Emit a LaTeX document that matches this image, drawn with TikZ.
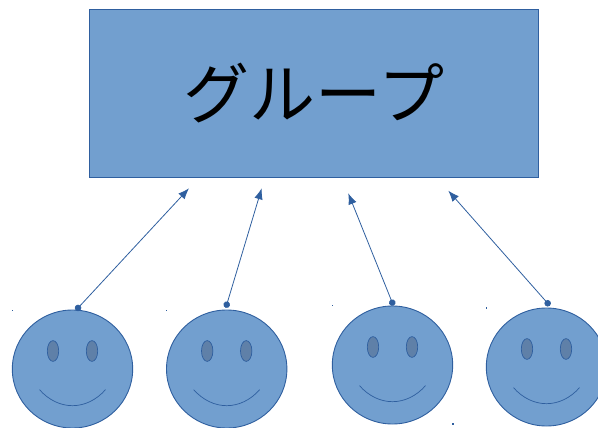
\documentclass[tikz,border=0pt]{standalone}
\usepackage{fontspec}
\usepackage{xcolor}
\usetikzlibrary{arrows.meta}
\newfontfamily\cjk{Noto Sans CJK JP}
\definecolor{facefill}{HTML}{729FCF}
\definecolor{faceline}{HTML}{2F5F9F}
\definecolor{eyefill}{HTML}{5F80A8}
\tikzset{
    groupbox/.style={draw=faceline, fill=facefill, line width=0.9pt, minimum width=449pt, minimum height=168pt, inner sep=0pt, font=\cjk\fontsize{66}{66}\selectfont},
    facebody/.style={draw=faceline, fill=facefill, line width=0.9pt},
    eyebody/.style={draw=faceline, fill=eyefill, line width=0.7pt},
    speck/.style={fill=faceline, inner sep=0pt, minimum size=1.4pt},
    linkline/.style={faceline, line width=0.8pt, shorten <=-3.2pt, {Circle[length=6.5pt, width=6.5pt]}-{Latex[length=11pt, width=8.5pt]}}
}
\begin{document}
\begin{tikzpicture}[x=1pt, y=-1pt]
    \useasboundingbox (0,0) rectangle (598,428);
    \node [groupbox] (group) at (314,93) {\raisebox{2pt}{グループ}};
    % faces
    \foreach \n/\cx/\cy in {1/72.5/369, 2/226.7/369, 3/392.5/365, 4/546.5/367} {
        \draw [facebody] (\cx,\cy) ellipse [x radius=60.2, y radius=59];
        \draw [eyebody] (\cx-19.5,\cy-18) ellipse [x radius=5.7, y radius=10.4];
        \draw [eyebody] (\cx+19.5,\cy-18) ellipse [x radius=5.7, y radius=10.4];
        \draw [faceline, line width=0.7pt] (\cx-33,\cy+20.7) .. controls (\cx-14,\cy+42) and (\cx+14,\cy+42) .. (\cx+33,\cy+20.7);
    }
    % arrows
    \coordinate (dot1) at (78,308);
    \coordinate (dot2) at (226.7,304.7);
    \coordinate (dot3) at (392.3,302.7);
    \coordinate (dot4) at (547.7,303.3);
    \coordinate (tip1) at (189,188.3);
    \coordinate (tip2) at (261.7,188.3);
    \coordinate (tip3) at (348.3,193.3);
    \coordinate (tip4) at (448.3,190.7);
    \foreach \n in {1,2,3,4} {
        \draw [linkline] (dot\n) -- (tip\n);
    }
    % small marks
    \foreach \px/\py [count=\i] in {12.5/310.5, 166.5/310.5, 332.5/305.7, 486.7/308, 453/424} {
        \node [speck] (speck\i) at (\px,\py) {};
    }
\end{tikzpicture}
\end{document}
